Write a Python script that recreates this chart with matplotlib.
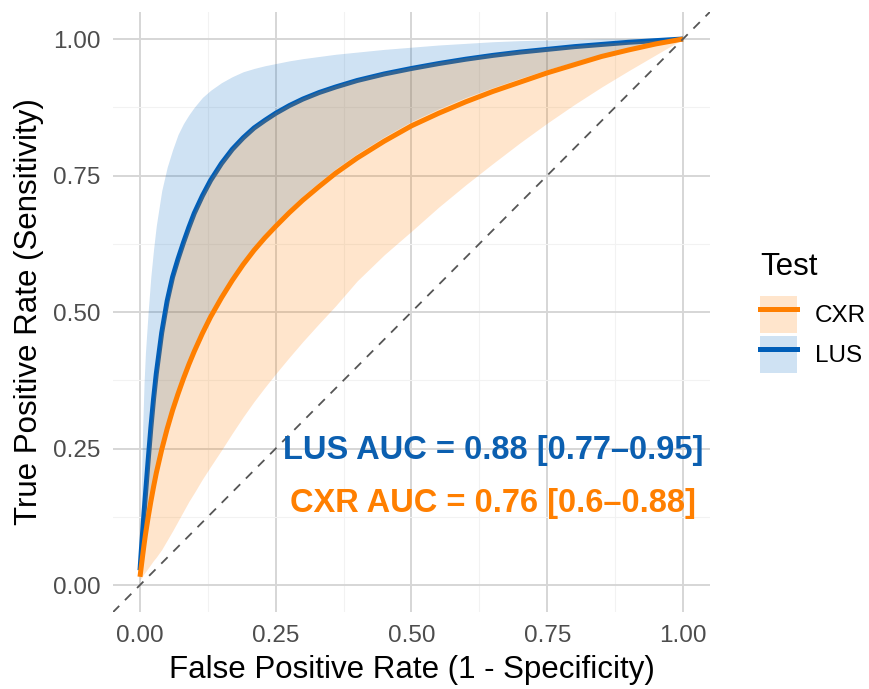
import matplotlib
matplotlib.use("Agg")
import matplotlib.pyplot as plt
from matplotlib.patches import Patch
from matplotlib.lines import Line2D

plt.rcParams['font.family'] = ['Liberation Sans', 'DejaVu Sans']

# values (shared FPR grid)
fpr = [0, 0.0025, 0.005, 0.0075, 0.01, 0.015, 0.02, 0.025, 0.03, 0.04,
       0.05, 0.06, 0.07, 0.08, 0.09, 0.10, 0.115, 0.13, 0.15, 0.17,
       0.19, 0.21, 0.23, 0.25, 0.275, 0.30, 0.33, 0.36, 0.40, 0.45,
       0.50, 0.55, 0.60, 0.65, 0.70, 0.75, 0.80, 0.85, 0.90, 0.95, 1.00]

lus_tpr = [0.027, 0.064, 0.099, 0.133, 0.165, 0.228, 0.288, 0.341, 0.387, 0.462,
           0.520, 0.564, 0.597, 0.627, 0.655, 0.681, 0.713, 0.741, 0.772, 0.798,
           0.819, 0.837, 0.851, 0.864, 0.878, 0.890, 0.902, 0.912, 0.924, 0.936,
           0.946, 0.955, 0.963, 0.970, 0.976, 0.981, 0.986, 0.990, 0.994, 0.997, 1.0]
lus_low = [0.02, 0.042, 0.063, 0.082, 0.100, 0.132, 0.161, 0.188, 0.213, 0.256,
           0.294, 0.328, 0.358, 0.386, 0.412, 0.436, 0.469, 0.499, 0.534, 0.566,
           0.595, 0.621, 0.644, 0.665, 0.690, 0.713, 0.738, 0.762, 0.790, 0.821,
           0.849, 0.872, 0.893, 0.911, 0.928, 0.944, 0.958, 0.972, 0.983, 0.993, 1.0]
lus_high = [0.05, 0.18, 0.29, 0.37, 0.425, 0.50, 0.565, 0.615, 0.658, 0.722,
            0.765, 0.797, 0.825, 0.845, 0.861, 0.875, 0.893, 0.906, 0.920, 0.931,
            0.940, 0.946, 0.951, 0.955, 0.960, 0.964, 0.968, 0.972, 0.976, 0.981,
            0.985, 0.989, 0.992, 0.995, 0.997, 0.998, 0.999, 1.0, 1.0, 1.0, 1.0]

cxr_tpr = [0.015, 0.035, 0.055, 0.074, 0.092, 0.124, 0.153, 0.180, 0.205, 0.248,
           0.286, 0.320, 0.350, 0.378, 0.404, 0.428, 0.461, 0.491, 0.526, 0.558,
           0.587, 0.613, 0.636, 0.657, 0.682, 0.705, 0.730, 0.754, 0.782, 0.813,
           0.841, 0.864, 0.885, 0.904, 0.921, 0.938, 0.953, 0.968, 0.980, 0.991, 1.0]
cxr_low = [0.01, 0.013, 0.017, 0.021, 0.024, 0.031, 0.038, 0.045, 0.051, 0.065,
           0.082, 0.099, 0.117, 0.135, 0.153, 0.169, 0.194, 0.217, 0.247, 0.278,
           0.308, 0.336, 0.362, 0.387, 0.417, 0.446, 0.479, 0.511, 0.557, 0.605,
           0.648, 0.692, 0.733, 0.772, 0.810, 0.846, 0.880, 0.912, 0.942, 0.971, 1.0]
cxr_high = [0.02, 0.055, 0.09, 0.124, 0.156, 0.218, 0.278, 0.331, 0.378, 0.454,
            0.513, 0.559, 0.594, 0.626, 0.655, 0.682, 0.715, 0.744, 0.775, 0.801,
            0.822, 0.840, 0.854, 0.867, 0.881, 0.893, 0.905, 0.915, 0.927, 0.939,
            0.949, 0.958, 0.966, 0.973, 0.979, 0.984, 0.988, 0.992, 0.995, 0.998, 1.0]

tests = ['CXR', 'LUS']
auc_text = {'LUS': 'LUS AUC = 0.88 [0.77–0.95]', 'CXR': 'CXR AUC = 0.76 [0.6–0.88]'}
auc_pos = {'LUS': (0.65, 0.247), 'CXR': (0.65, 0.150)}

col_line = {'CXR': '#FF7F00', 'LUS': '#005EB8'}
col_fill = {'CXR': '#FF7F00', 'LUS': '#0F6EC3'}
col_text = {'CXR': '#FF7F00', 'LUS': '#0B5FB0'}

fig = plt.figure(figsize=(8.7, 6.89), dpi=100)
ax = fig.add_axes([112.85 / 870, 76.7 / 689, (710.15 - 112.85) / 870, (612.3 - 11.7) / 689])

# ribbons + curves (orange band sits on top, tinting the blue line a bit)
ax.fill_between(fpr, lus_low, lus_high, color=col_fill['LUS'], alpha=0.2, lw=0, zorder=1)
ax.plot(fpr, lus_tpr, color=col_line['LUS'], lw=3.6, zorder=2,
        solid_capstyle='butt', solid_joinstyle='round')
ax.plot(fpr, cxr_tpr, color=col_line['CXR'], lw=3.6, zorder=2,
        solid_capstyle='butt', solid_joinstyle='round')
ax.fill_between(fpr, cxr_low, cxr_high, color=col_fill['CXR'], alpha=0.2, lw=0, zorder=3)

ax.axline((0, 0), slope=1, color='#555555', lw=1.3, linestyle=(0, (5, 4.5)), zorder=5)

for t in tests:
    ax.text(auc_pos[t][0], auc_pos[t][1], auc_text[t], color=col_text[t], fontsize=23.5,
            fontweight='bold', ha='center', va='center', zorder=6)

ax.set_xlim(-0.05, 1.05)
ax.set_ylim(-0.05, 1.05)
ticks = [0, 0.25, 0.5, 0.75, 1.0]
ax.set_xticks(ticks)
ax.set_yticks(ticks)
ax.set_xticklabels(['0.00', '0.25', '0.50', '0.75', '1.00'])
ax.set_yticklabels(['0.00', '0.25', '0.50', '0.75', '1.00'])
ax.set_xticks([0.125, 0.375, 0.625, 0.875], minor=True)
ax.set_yticks([0.125, 0.375, 0.625, 0.875], minor=True)
ax.tick_params(which='both', length=0, labelsize=17.5, labelcolor='#4D4D4D', pad=9)
ax.grid(which='major', color='#D6D6D6', lw=1.4, zorder=0)
ax.grid(which='minor', color='#F2F2F2', lw=0.8, zorder=0)
ax.set_axisbelow(True)
for s in ax.spines.values():
    s.set_visible(False)

ax.set_xlabel('False Positive Rate (1 - Specificity)', fontsize=22.5, labelpad=6)
ax.set_ylabel('True Positive Rate (Sensitivity)', fontsize=22.5, labelpad=6)

# legend: title placed by hand, keys below it
fig.text(760 / 870, 1 - 275 / 689, 'Test', fontsize=22.5, ha='left', va='baseline')
handles = [(Patch(facecolor=col_fill[t], alpha=0.2, edgecolor='none'),
            Line2D([], [], color=col_line[t], lw=3.6)) for t in tests]
fig.legend(handles, tests, loc='upper left', bbox_to_anchor=(760 / 870, 1 - 296 / 689),
           frameon=False, borderpad=0, borderaxespad=0,
           fontsize=17.5, handlelength=1.52, handleheight=1.97,
           labelspacing=0.12, handletextpad=0.74)

fig.savefig('out.png', dpi=100)
